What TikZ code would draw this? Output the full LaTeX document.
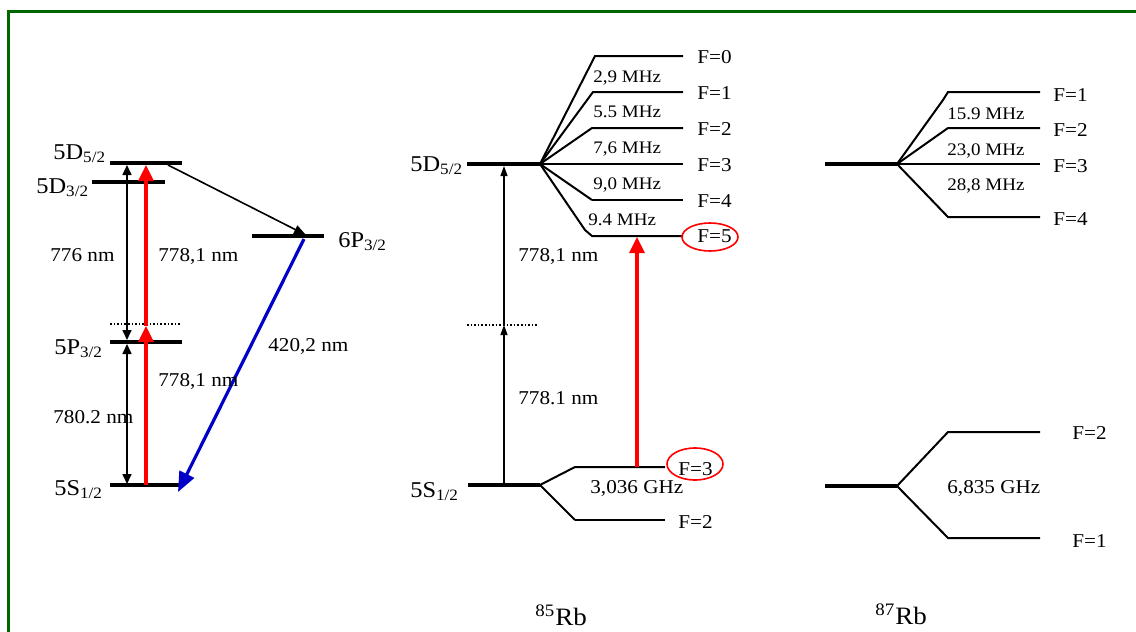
\documentclass[tikz,border=0pt]{standalone}
\usepackage{fontspec}
\setmainfont{Liberation Serif}[FakeStretch=1.08]
\usetikzlibrary{arrows.meta}
\definecolor{framegreen}{RGB}{0,102,0}
\definecolor{laserred}{RGB}{255,0,0}
\definecolor{laserblue}{RGB}{0,0,200}
\tikzset{
  frame/.style={draw=framegreen,line width=1.9pt},
  level/.style={line width=1.8pt},
  sublevel/.style={line width=1pt},
  thinlevel/.style={line width=0.6pt},
  virt/.style={densely dotted,line width=0.8pt},
  lbl/.style={anchor=base west,inner sep=0pt,font=\fontsize{9.8}{11}\selectfont},
  lvl/.style={anchor=base west,inner sep=0pt,font=\fontsize{11.3}{13}\selectfont},
  mhz/.style={anchor=base west,inner sep=0pt,font=\fontsize{8.8}{10}\selectfont},
  iso/.style={anchor=base west,inner sep=0pt,font=\fontsize{12.5}{14}\selectfont},
  bidir/.style={line width=0.8pt,{Triangle[width=4.5pt,length=5pt]}-{Triangle[width=4.5pt,length=5pt]}},
  uparr/.style={line width=0.6pt,-{Triangle[width=3.5pt,length=5pt]}},
  redarr/.style={draw=laserred,line width=1.6pt,-{Triangle[width=7.5pt,length=8pt]}},
  bluearr/.style={draw=laserblue,line width=1.6pt,-{Triangle[width=8pt,length=10pt]}},
  blkarr/.style={line width=0.8pt,-{Triangle[width=4.5pt,length=6pt]}},
  hilite/.style={draw=laserred,line width=0.8pt}
}
\begin{document}
\begin{tikzpicture}[x=0.5pt,y=-0.5pt]
\useasboundingbox (0,0) rectangle (1136,632);
\fill[white] (0,0) rectangle (1136,632);
% frame
\coordinate (fbl) at (8.5,640);
\coordinate (ftl) at (8.5,11.5);
\coordinate (ftr) at (1140,11.5);
\draw[frame] (fbl) -- (ftl) -- (ftr);

% ================= left panel =================
\coordinate (D52L) at (110,163); \coordinate (D52R) at (182,163);
\coordinate (D32L) at (92,182);  \coordinate (D32R) at (165,182);
\coordinate (P63L) at (252,236); \coordinate (P63R) at (324,236);
\coordinate (VL) at (110,324);   \coordinate (VR) at (180,324);
\coordinate (P32L) at (110,342); \coordinate (P32R) at (182,342);
\coordinate (S12L) at (110,485); \coordinate (S12R) at (180,485);
\draw[level] (D52L) -- (D52R);
\draw[level] (D32L) -- (D32R);
\draw[level] (P63L) -- (P63R);
\draw[virt] (VL) -- (VR);
\draw[level] (P32L) -- (P32R);
\draw[level] (S12L) -- (S12R);

\node[lvl] (tD52) at (53,159) {5D\textsubscript{5/2}};
\node[lvl] (tD32) at (36,193) {5D\textsubscript{3/2}};
\node[lvl] (tP63) at (338,247) {6P\textsubscript{3/2}};
\node[lvl] (tP32) at (54,354) {5P\textsubscript{3/2}};
\node[lvl] (tS12) at (54,495) {5S\textsubscript{1/2}};

% black double arrows
\coordinate (a1t) at (127,165); \coordinate (a1b) at (127,340);
\coordinate (a2t) at (127,344); \coordinate (a2b) at (127,484);
\draw[bidir] (a1b) -- (a1t);
\draw[bidir] (a2b) -- (a2t);
% red arrows
\coordinate (r1b) at (146,485); \coordinate (r1t) at (146,326);
\coordinate (r2t) at (146,165);
\draw[redarr] (r1b) -- (r1t);
\draw[redarr] (r1t) -- (r2t);
% decay arrows
\coordinate (d1s) at (168,165); \coordinate (d1e) at (306,235);
\coordinate (d2s) at (304,239); \coordinate (d2e) at (178,492);
\draw[blkarr] (d1s) -- (d1e);
\draw[bluearr] (d2s) -- (d2e);

\node[lbl] (t776) at (50,261) {776 nm};
\node[lbl] (t7781a) at (158,261) {778,1 nm};
\node[lbl] (t7781b) at (158,386) {778,1 nm};
\node[lbl] (t780) at (53,423) {780.2 nm};
\node[lbl] (t420) at (268,351) {420,2 nm};

% ================= middle panel (85Rb) =================
\coordinate (mD) at (467,164); \coordinate (mDr) at (540,164);
\coordinate (mS) at (468,485); \coordinate (mSr) at (540,485);
\coordinate (mVL) at (467,325); \coordinate (mVR) at (537,325);
\draw[level] (mD) -- (mDr);
\draw[level] (mS) -- (mSr);
\draw[virt] (mVL) -- (mVR);
% hyperfine 5D5/2
\coordinate (mF0) at (595,56);  \coordinate (mF0r) at (683,56);
\coordinate (mF1) at (593,92);  \coordinate (mF1r) at (683,92);
\coordinate (mF2) at (592,128); \coordinate (mF2r) at (683,128);
\coordinate (mF3r) at (683,164);
\coordinate (mF4) at (592,200); \coordinate (mF4r) at (683,200);
\coordinate (mF5k) at (585,230);
\coordinate (mF5) at (592,236); \coordinate (mF5r) at (683,236);
\draw[sublevel] (mDr) -- (mF0) -- (mF0r);
\draw[sublevel] (mDr) -- (mF1) -- (mF1r);
\draw[sublevel] (mDr) -- (mF2) -- (mF2r);
\draw[thinlevel] (mDr) -- (mF3r);
\draw[sublevel] (580,164) -- (mF3r);
\draw[sublevel] (mDr) -- (mF4);
\draw[thinlevel] (mF4) -- (mF4r);
\draw[sublevel] (mDr) -- (mF5k) -- (mF5) -- (mF5r);
\node[lbl] (mtF0) at (697,63) {F=0};
\node[lbl] (mtF1) at (697,99) {F=1};
\node[lbl] (mtF2) at (697,135) {F=2};
\node[lbl] (mtF3) at (697,171) {F=3};
\node[lbl] (mtF4) at (697,207) {F=4};
\node[lbl] (mtF5) at (697,242) {F=5};
\node[mhz] (m29) at (593,82) {2,9 MHz};
\node[mhz] (m55) at (593,117) {5.5 MHz};
\node[mhz] (m76) at (593,153) {7,6 MHz};
\node[mhz] (m90) at (593,189) {9,0 MHz};
\node[mhz] (m94) at (588,225) {9.4 MHz};
% hyperfine 5S1/2
\coordinate (mG3) at (575,467); \coordinate (mG3r) at (665,467);
\coordinate (mG2) at (575,520); \coordinate (mG2r) at (665,520);
\draw[sublevel] (mSr) -- (mG3) -- (mG3r);
\draw[sublevel] (mSr) -- (mG2);
\draw[thinlevel] (mG2) -- (mG2r);
\node[lbl] (mtG3) at (678,475) {F=3};
\node[lbl] (mtG2) at (678,528) {F=2};
\node[lbl] (m3036) at (590,493) {3,036 GHz};
\node[lvl] (mtD) at (410,171) {5D\textsubscript{5/2}};
\node[lvl] (mtS) at (410,497) {5S\textsubscript{1/2}};
% arrows
\coordinate (ma1) at (504,485); \coordinate (ma2) at (504,325); \coordinate (ma3) at (504,166);
\draw[uparr] (ma1) -- (ma2);
\draw[uparr] (ma2) -- (ma3);
\coordinate (mr1) at (637,467); \coordinate (mr2) at (637,237);
\draw[redarr] (mr1) -- (mr2);
\node[lbl] (m7781a) at (518,261) {778,1 nm};
\node[lbl] (m7781b) at (518,404) {778.1 nm};
% red marks
\draw[hilite] (710,237) ellipse [x radius=28, y radius=14];
\draw[hilite] (695,464) ellipse [x radius=28, y radius=16];
\node[iso] (m85) at (535,625) {\textsuperscript{85}Rb};

% ================= right panel (87Rb) =================
\coordinate (rD) at (825,164); \coordinate (rDr) at (897,164);
\coordinate (rS) at (825,486); \coordinate (rSr) at (897,486);
\draw[level] (rD) -- (rDr);
\draw[level] (rS) -- (rSr);
\coordinate (rF1k) at (943,100);
\coordinate (rF1) at (948,92);  \coordinate (rF1r) at (1040,92);
\coordinate (rF2) at (948,128); \coordinate (rF2r) at (1040,128);
\coordinate (rF3r) at (1040,164);
\coordinate (rF4) at (948,217); \coordinate (rF4r) at (1040,217);
\draw[sublevel] (rDr) -- (rF1k) -- (rF1) -- (rF1r);
\draw[sublevel] (rDr) -- (rF2) -- (rF2r);
\draw[thinlevel] (rDr) -- (rF3r);
\draw[sublevel] (935,164) -- (rF3r);
\draw[sublevel] (rDr) -- (rF4) -- (rF4r);
\node[lbl] (rtF1) at (1053,101) {F=1};
\node[lbl] (rtF2) at (1053,136) {F=2};
\node[lbl] (rtF3) at (1053,172) {F=3};
\node[lbl] (rtF4) at (1053,225) {F=4};
\node[mhz] (r159) at (947,119) {15.9 MHz};
\node[mhz] (r230) at (947,155) {23,0 MHz};
\node[mhz] (r288) at (947,190) {28,8 MHz};
\coordinate (rG2) at (948,432); \coordinate (rG2r) at (1040,432);
\coordinate (rG1) at (948,538); \coordinate (rG1r) at (1040,538);
\draw[sublevel] (rSr) -- (rG2) -- (rG2r);
\draw[sublevel] (rSr) -- (rG1) -- (rG1r);
\node[lbl] (rtG2) at (1072,439) {F=2};
\node[lbl] (rtG1) at (1072,547) {F=1};
\node[lbl] (r6835) at (947,493) {6,835 GHz};
\node[iso] (r87) at (875,624) {\textsuperscript{87}Rb};
\end{tikzpicture}
\end{document}
